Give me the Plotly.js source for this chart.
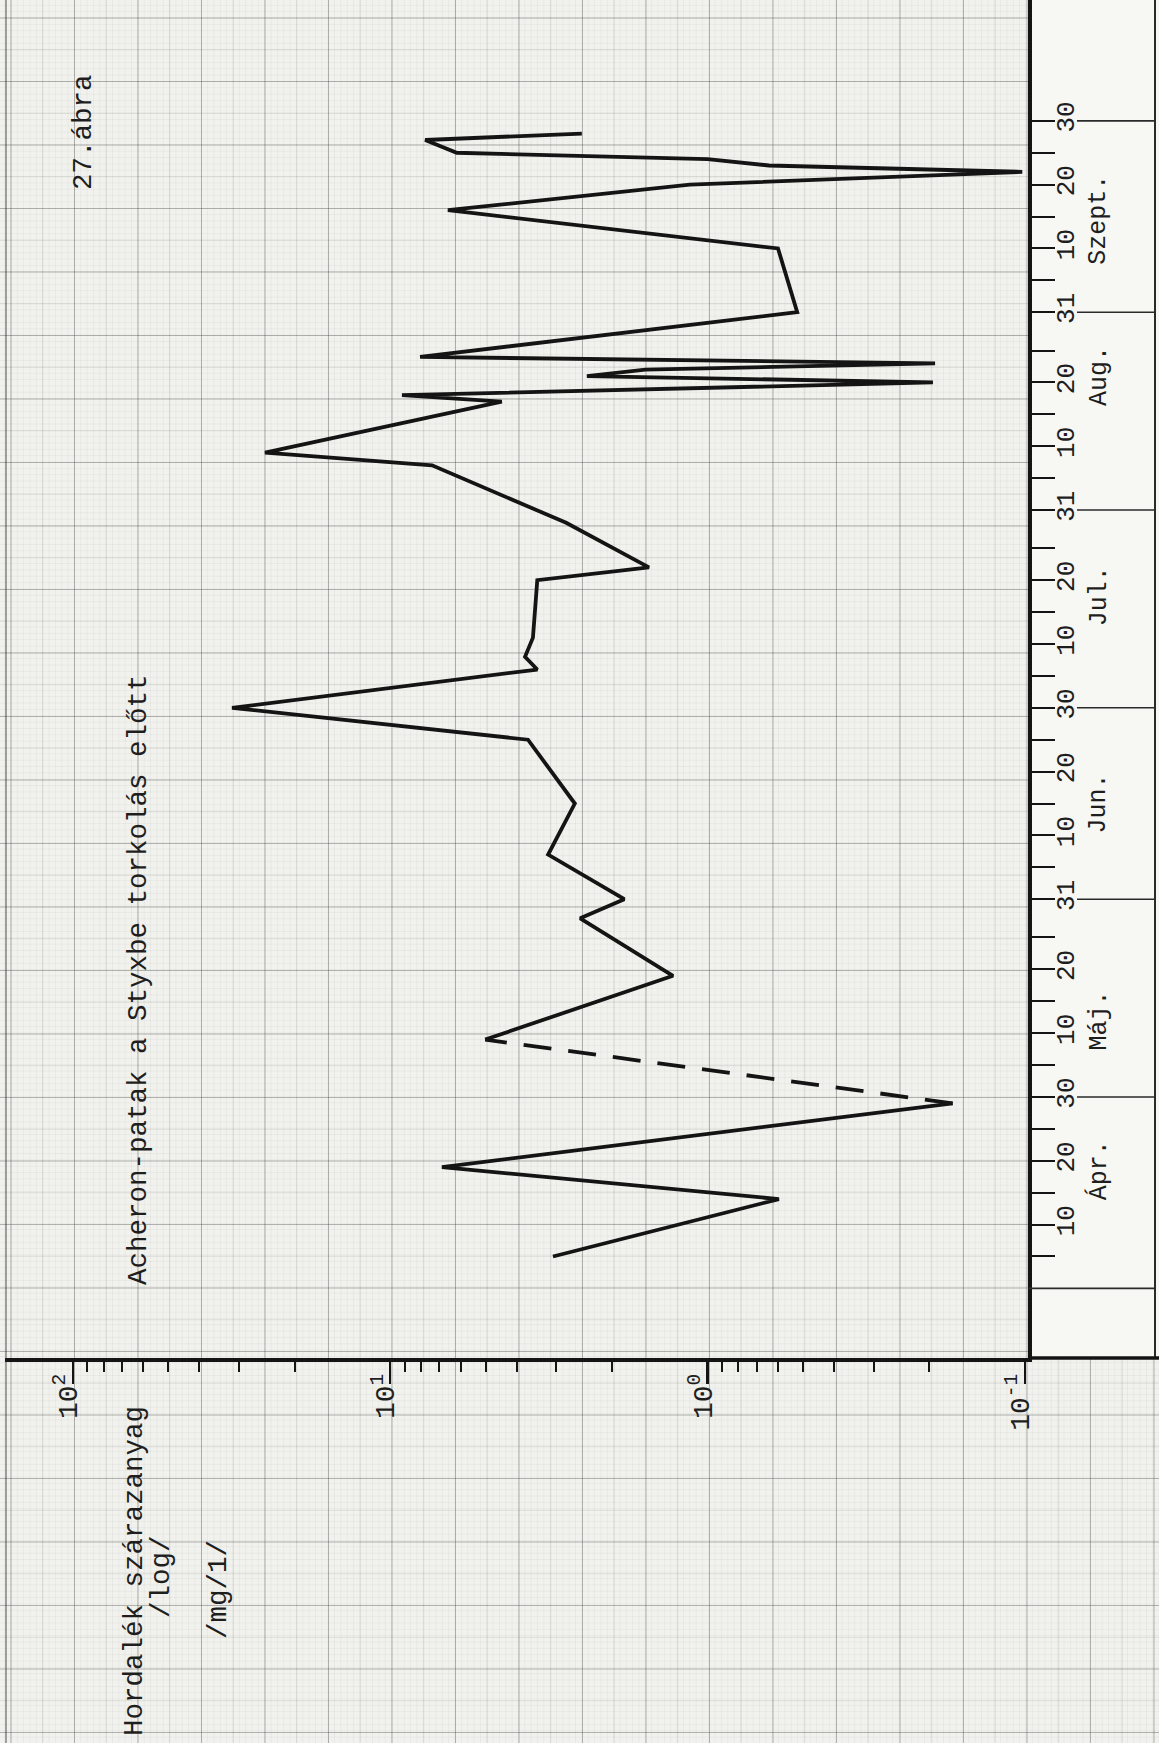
<!DOCTYPE html>
<html>
<head>
<meta charset="utf-8">
<script src="https://cdn.plot.ly/plotly-3.0.1.min.js"></script>
<style>
html,body{margin:0;padding:0;background:#f1f1ed;}
#chart{
  width:1159px;height:1743px;
  background-color:#f1f1ed;
  background-image:
    linear-gradient(to right, rgba(60,60,60,0.27) 1.3px, transparent 1.3px),
    linear-gradient(to bottom, rgba(60,60,60,0.27) 1.3px, transparent 1.3px),
    linear-gradient(to right, rgba(60,60,60,0.12) 1px, transparent 1px),
    linear-gradient(to bottom, rgba(60,60,60,0.12) 1px, transparent 1px),
    linear-gradient(to right, rgba(60,60,60,0.05) 1px, transparent 1px),
    linear-gradient(to bottom, rgba(60,60,60,0.05) 1px, transparent 1px);
  background-size:63.5px 63.5px,63.5px 63.5px,31.75px 31.75px,31.75px 31.75px,6.35px 6.35px,6.35px 6.35px;
  background-position:10.5px 17.5px,10.5px 17.5px,10.5px 17.5px,10.5px 17.5px,10.5px 17.5px,10.5px 17.5px;
}
</style>
</head>
<body>
<div id="chart"></div>
<script>
// ---- data (sediment dry matter, mg/l, log scale) ----
const dates = ['1980-04-05','1980-04-14','1980-04-19','1980-04-29','1980-05-09','1980-05-19','1980-05-28','1980-05-31',
  '1980-06-07','1980-06-15','1980-06-25','1980-06-30','1980-07-06','1980-07-08','1980-07-11','1980-07-20','1980-07-22',
  '1980-07-29','1980-08-07','1980-08-09','1980-08-17','1980-08-18','1980-08-20','1980-08-21','1980-08-22','1980-08-23',
  '1980-08-24','1980-08-31','1980-09-10','1980-09-16','1980-09-20','1980-09-22','1980-09-23','1980-09-24','1980-09-25',
  '1980-09-27','1980-09-28'];
const sediment = [3.07,0.596,6.87,0.169,5.02,1.285,2.52,1.83,
  3.18,2.62,3.68,31.5,3.44,3.76,3.55,3.44,1.53,
  2.79,7.38,24.8,4.45,9.18,0.195,2.40,1.57,0.192,
  8.05,0.522,0.600,6.58,1.137,0.102,0.641,1.0,6.17,
  7.76,2.49];
const gapStart = 3; // dashed (missing) stretch between index 3 and 4

// ---- axis ticks / labels ----
const decadeVals = [0.1, 1, 10, 100];
const decadeText = ['10<sup>-1</sup>','10<sup>0</sup>','10<sup>1</sup>','10<sup>2</sup>'];
const minorVals = [0.2,0.3,0.4,0.5,0.6,0.7,0.8,0.9,2,3,4,5,6,7,8,9,20,30,40,50,60,70,80,90];
const dateTickVals = [
  '1980-04-10','1980-04-20','1980-04-30',
  '1980-05-10','1980-05-20','1980-05-31',
  '1980-06-10','1980-06-20','1980-06-30',
  '1980-07-10','1980-07-20','1980-07-31',
  '1980-08-10','1980-08-20','1980-08-31',
  '1980-09-10','1980-09-20','1980-09-30'];
const dateTickText = ['10','20','30','10','20','31','10','20','30','10','20','31','10','20','31','10','20','30'];
const dateMinorVals = ['1980-04-05','1980-04-15','1980-04-25','1980-05-05','1980-05-15','1980-05-25',
  '1980-06-05','1980-06-15','1980-06-25','1980-07-05','1980-07-15','1980-07-25',
  '1980-08-05','1980-08-15','1980-08-25','1980-09-05','1980-09-15','1980-09-25'];
const monthNames = ['Ápr.','Máj.','Jun.','Jul.','Aug.','Szept.'];
const monthLabelDates = ['1980-04-18 12:00','1980-05-12','1980-06-15','1980-07-17 12:00','1980-08-21','1980-09-14 12:00'];
const monthEnds = ['1980-03-31','1980-04-30','1980-05-31','1980-06-30','1980-07-31','1980-08-31','1980-09-30'];

const titleText = 'Acheron-patak a Styxbe torkolás előtt';
const figText = '27.ábra';
const yTitleLines = ['Hordalék szárazanyag','/log/','/mg/1/'];

// ---- layout geometry (pixels of the 1159x1743 page) ----
const W = 1159, H = 1743;
const plotLeft = 5, plotRight = 1028, plotBottom = 1358;
const px = v => v / W;
const py = v => 1 - v / H;
const FONT = 'Liberation Mono, Courier New, monospace';
const INK = '#141414';

const lineStyle = {color: INK, width: 3.8};
const traces = [
  {x: sediment.slice(0, gapStart + 1), y: dates.slice(0, gapStart + 1), mode: 'lines', line: lineStyle},
  {x: sediment.slice(gapStart, gapStart + 2), y: dates.slice(gapStart, gapStart + 2), mode: 'lines',
   line: {color: INK, width: 3.8, dash: '28px,17px'}},
  {x: sediment.slice(gapStart + 1), y: dates.slice(gapStart + 1), mode: 'lines', line: lineStyle}
];

const shapes = [
  {type:'rect', xref:'paper', yref:'paper', x0:px(plotRight), x1:1, y0:py(plotBottom), y1:1,
   fillcolor:'#f7f7f3', line:{width:0}, layer:'below'},
  {type:'line', xref:'paper', yref:'paper', x0:px(1155), x1:px(1155), y0:py(plotBottom), y1:1,
   line:{color:'#2a2a2a', width:2}},
  {type:'line', xref:'paper', yref:'paper', x0:px(plotRight), x1:1, y0:py(plotBottom), y1:py(plotBottom),
   line:{color:INK, width:3.5}},
  {type:'line', xref:'paper', yref:'paper', x0:px(6), x1:px(6), y0:0, y1:1,
   line:{color:'rgba(40,40,40,0.55)', width:1.5}}
];
monthEnds.forEach((d, i) => {
  shapes.push({type:'line', xref:'paper', yref:'y', x0: i === 0 ? px(plotRight) : px(1077), x1:px(1155), y0:d, y1:d,
    line:{color:'#2a2a2a', width:1.6}});
});

const annFont = {family:FONT, size:27.5, color:'#1e1e1e'};
const annotations = [
  {text:titleText, xref:'paper', yref:'paper', x:px(138), y:py(980), textangle:-90, showarrow:false,
   xanchor:'center', yanchor:'middle', font:annFont},
  {text:figText, xref:'paper', yref:'paper', x:px(84), y:py(132), textangle:-90, showarrow:false,
   xanchor:'center', yanchor:'middle', font:annFont},
  {text:yTitleLines[0], xref:'paper', yref:'paper', x:px(134), y:py(1571), textangle:-90, showarrow:false,
   xanchor:'center', yanchor:'middle', font:annFont},
  {text:yTitleLines[1], xref:'paper', yref:'paper', x:px(161), y:py(1577), textangle:-90, showarrow:false,
   xanchor:'center', yanchor:'middle', font:annFont},
  {text:yTitleLines[2], xref:'paper', yref:'paper', x:px(218), y:py(1590), textangle:-90, showarrow:false,
   xanchor:'center', yanchor:'middle', font:annFont}
];
monthNames.forEach((m, i) => {
  annotations.push({text:m, xref:'paper', yref:'y', x:px(1099), y:monthLabelDates[i], textangle:-90,
    showarrow:false, xanchor:'center', yanchor:'middle', font:{family:FONT, size:25, color:'#1e1e1e'}});
});

const layout = {
  width: W, height: H,
  margin: {l:0, r:0, t:0, b:0},
  paper_bgcolor: 'rgba(0,0,0,0)',
  plot_bgcolor: 'rgba(0,0,0,0)',
  showlegend: false,
  hovermode: false,
  xaxis: {
    type:'log', range:[2.2136, -1.0095], domain:[px(plotLeft), px(plotRight)], anchor:'y', side:'bottom',
    showline:true, linecolor:INK, linewidth:3.5, showgrid:false, zeroline:false,
    ticks:'outside', ticklen:22, tickwidth:2.5, tickcolor:INK,
    tickmode:'array', tickvals:decadeVals, ticktext:decadeText, tickangle:-90,
    ticklabelshift:5, ticklabelstandoff:-21,
    tickfont:{family:FONT, size:28, color:'#1e1e1e'},
    minor:{tickmode:'array', tickvals:minorVals, ticks:'outside', ticklen:10, tickwidth:2, tickcolor:INK, showgrid:false}
  },
  yaxis: {
    type:'date', range:['1980-03-20 02:10','1980-10-18 22:34'], domain:[py(plotBottom), 1], anchor:'x', side:'right',
    showline:true, linecolor:INK, linewidth:4, showgrid:false, zeroline:false,
    ticks:'outside', ticklen:23, tickwidth:2, tickcolor:INK,
    tickmode:'array', tickvals:dateTickVals, ticktext:dateTickText, tickangle:-90,
    ticklabelstandoff:-12,
    tickfont:{family:FONT, size:26, color:'#1e1e1e'},
    minor:{tickmode:'array', tickvals:dateMinorVals, ticks:'outside', ticklen:23, tickwidth:2, tickcolor:INK, showgrid:false}
  },
  shapes: shapes,
  annotations: annotations
};

Plotly.newPlot('chart', traces, layout, {staticPlot:true, displayModeBar:false});
</script>
</body>
</html>
